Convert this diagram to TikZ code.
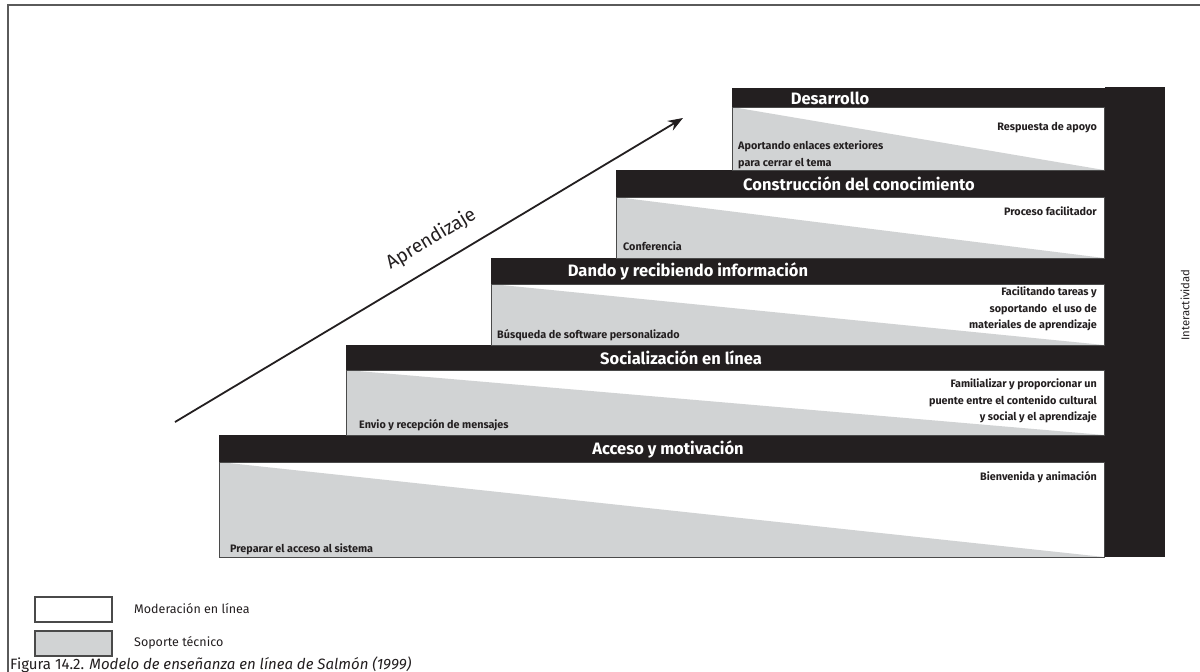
\documentclass[tikz,border=0pt]{standalone}
\usepackage{fontspec}
\setmainfont{Fira Sans}
\usetikzlibrary{arrows.meta}
\definecolor{ink}{HTML}{231F20}
\definecolor{support}{HTML}{D1D3D4}
\definecolor{framegray}{HTML}{5A5A5A}
\definecolor{edgegray}{HTML}{4A4A4A}
\tikzset{
  headtext/.style={text=white, font=\bfseries\fontsize{16.5}{18}\selectfont, inner sep=0pt},
  notetext/.style={text=ink, font=\bfseries\fontsize{10.8}{16.5}\selectfont, inner sep=0pt},
  plaintext/.style={text=ink, inner sep=0pt},
  bodyedge/.style={draw=edgegray, line width=0.9pt},
  legendbox/.style={draw=edgegray, line width=1.2pt},
}
% one stage of the staircase: left x, header top, header bottom, body bottom
\newcommand\stagebox[4]{%
  \fill[ink] (#1,#2) rectangle (1105,#3);
  \fill[white] (#1,#3) rectangle (1104,#4);
  \fill[support] (#1,#3) -- (1104,#4) -- (#1,#4) -- cycle;
  \draw[bodyedge] (#1,#3) rectangle (1104,#4);
}
\begin{document}
\begin{tikzpicture}[x=1pt,y=-1pt]
\useasboundingbox (0,0) rectangle (1200,672);
\fill[white] (0,0) rectangle (1200,672);
% frame
\draw[framegray, line width=1.4pt] (8,672) -- (8,5) -- (1200,5);

% interactivity column
\fill[ink] (1105,87) rectangle (1165,557);

% stages, bottom to top
\stagebox{219}{435}{462}{557}
\stagebox{346}{345}{370}{435}
\stagebox{491}{258}{284}{345}
\stagebox{616}{170}{197}{258}
\stagebox{732}{88}{107}{170}

% stage titles
\node[headtext] (h1) at (668,449) {Acceso y motivación};
\node[headtext] (h2) at (681,358) {Socialización en línea};
\node[headtext] (h3) at (688,271) {Dando y recibiendo información};
\node[headtext] (h4) at (859,184) {Construcción del conocimiento};
\node[headtext] (h5) at (830,98) {Desarrollo};

% moderation (right) and technical support (left) notes
\node[notetext, anchor=base east] (m1) at (1097,480) {Bienvenida y animación};
\node[notetext, anchor=base west] (s1) at (230,552) {Preparar el acceso al sistema};

\node[notetext, anchor=north east, align=right] (m2) at (1097,379) {Familializar y proporcionar un\\puente entre el contenido cultural\\y social y el aprendizaje};
\node[notetext, anchor=base west] (s2) at (359,428) {Envio y recepción de mensajes};

\node[notetext, anchor=north east, align=right] (m3) at (1097,287) {Facilitando tareas y\\soportando\ \ el uso de\\materiales de aprendizaje};
\node[notetext, anchor=base west] (s3) at (497,338) {Búsqueda de software personalizado};

\node[notetext, anchor=base east] (m4) at (1097,215) {Proceso facilitador};
\node[notetext, anchor=base west] (s4) at (623,250) {Conferencia};

\node[notetext, anchor=base east] (m5) at (1097,130) {Respuesta de apoyo};
\node[notetext, anchor=north west, align=left] (s5) at (738,141) {Aportando enlaces exteriores\\para cerrar el tema};

% learning arrow
\coordinate (ltail) at (175,422);
\coordinate (lhead) at (683,118);
\draw[ink, line width=1.8pt, -{Stealth[length=15pt,width=11pt]}] (ltail) -- (lhead)
  node[pos=0.53, sloped, anchor=south, inner ysep=15pt, font=\fontsize{19}{21}\selectfont, text=ink] (lrn) {Aprendizaje};

% interactivity label
\node[plaintext, rotate=90, font=\fontsize{11.3}{13}\selectfont] (iact) at (1185,305) {Interactividad};

% legend
\draw[legendbox, fill=white] (35,597) rectangle (112,622);
\node[plaintext, anchor=west, font=\fontsize{12.5}{14}\selectfont] (lg1) at (134,609) {Moderación en línea};
\draw[legendbox, fill=support] (35,631) rectangle (112,656);
\node[plaintext, anchor=west, font=\fontsize{12.5}{14}\selectfont] (lg2) at (134,643) {Soporte técnico};

% caption
\node[plaintext, anchor=base west, font=\fontsize{15}{17}\selectfont] (cap) at (10,669) {Figura 14.2. \textit{Modelo de enseñanza en línea de Salmón (1999)}};
\end{tikzpicture}
\end{document}
